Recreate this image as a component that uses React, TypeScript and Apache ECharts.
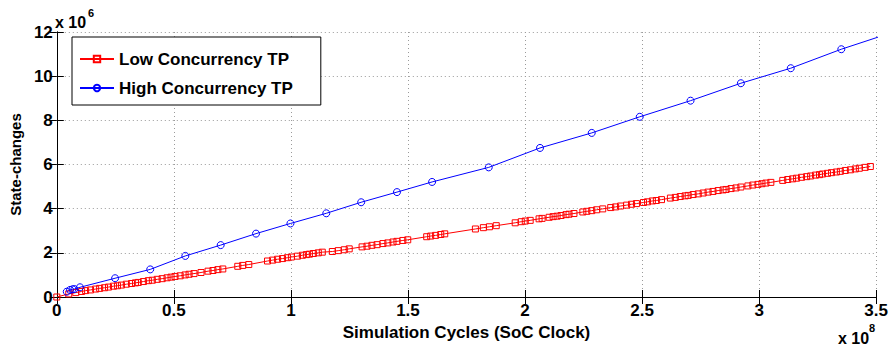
import React, { useEffect, useRef } from "react";
import * as echarts from "echarts";

// x in units of 1e8 simulation cycles, y in units of 1e6 state-changes
const lowX = [
  0, 0.051, 0.081, 0.106, 0.123, 0.144, 0.166, 0.183, 0.204, 0.221,
  0.242, 0.259, 0.276, 0.297, 0.319, 0.336, 0.348, 0.370, 0.391, 0.408,
  0.429, 0.450, 0.471, 0.488, 0.505, 0.527, 0.548, 0.565, 0.586, 0.616,
  0.646, 0.667, 0.688, 0.709, 0.773, 0.794, 0.820, 0.900, 0.922, 0.943,
  0.964, 0.985, 1.002, 1.028, 1.049, 1.066, 1.079, 1.096, 1.117, 1.134,
  1.177, 1.202, 1.228, 1.249, 1.304, 1.325, 1.346, 1.368, 1.393, 1.414,
  1.436, 1.453, 1.478, 1.499, 1.580, 1.597, 1.618, 1.640, 1.657, 1.788,
  1.822, 1.848, 1.877, 1.958, 1.984, 2.001, 2.022, 2.060, 2.073, 2.103,
  2.120, 2.137, 2.154, 2.175, 2.188, 2.209, 2.247, 2.264, 2.285, 2.306,
  2.332, 2.366, 2.387, 2.408, 2.434, 2.455, 2.476, 2.506, 2.523, 2.544,
  2.561, 2.583, 2.621, 2.642, 2.663, 2.684, 2.697, 2.718, 2.740, 2.761,
  2.782, 2.803, 2.825, 2.846, 2.859, 2.880, 2.901, 2.922, 2.952, 2.973,
  2.995, 3.012, 3.029, 3.050, 3.101, 3.122, 3.143, 3.160, 3.181, 3.203,
  3.220, 3.241, 3.258, 3.271, 3.292, 3.309, 3.330, 3.347, 3.368, 3.390,
  3.411, 3.428, 3.453, 3.475,
];
const lowY = [
  0, 0.14, 0.2, 0.25, 0.29, 0.32, 0.36, 0.39, 0.42, 0.45,
  0.49, 0.51, 0.54, 0.58, 0.61, 0.64, 0.66, 0.70, 0.74, 0.76,
  0.80, 0.83, 0.87, 0.90, 0.93, 0.96, 1.00, 1.03, 1.06, 1.11,
  1.17, 1.20, 1.24, 1.27, 1.39, 1.43, 1.47, 1.63, 1.67, 1.71,
  1.74, 1.78, 1.81, 1.85, 1.89, 1.92, 1.94, 1.97, 2.00, 2.03,
  2.06, 2.10, 2.14, 2.18, 2.27, 2.30, 2.34, 2.37, 2.42, 2.45,
  2.49, 2.52, 2.56, 2.59, 2.73, 2.76, 2.79, 2.83, 2.86, 3.08,
  3.14, 3.18, 3.23, 3.36, 3.41, 3.44, 3.47, 3.54, 3.56, 3.61,
  3.64, 3.66, 3.69, 3.73, 3.75, 3.78, 3.85, 3.88, 3.91, 3.95,
  3.99, 4.05, 4.08, 4.12, 4.16, 4.20, 4.23, 4.28, 4.31, 4.35,
  4.37, 4.41, 4.48, 4.51, 4.55, 4.58, 4.60, 4.64, 4.67, 4.71,
  4.75, 4.78, 4.82, 4.85, 4.87, 4.91, 4.94, 4.98, 5.03, 5.07,
  5.10, 5.13, 5.16, 5.19, 5.28, 5.32, 5.35, 5.38, 5.42, 5.45,
  5.48, 5.52, 5.54, 5.57, 5.60, 5.63, 5.66, 5.69, 5.73, 5.76,
  5.80, 5.83, 5.87, 5.91,
];
const highX = [
  0.0425, 0.0565, 0.067, 0.075, 0.099, 0.249, 0.399, 0.549, 0.700, 0.851,
  0.998, 1.151, 1.300, 1.453, 1.603, 1.845, 2.064, 2.285, 2.490, 2.707,
  2.922, 3.135, 3.351, 3.566,
];
const highY = [
  0.24, 0.32, 0.35, 0.36, 0.44, 0.85, 1.25, 1.86, 2.35, 2.87,
  3.33, 3.79, 4.29, 4.75, 5.21, 5.87, 6.75, 7.43, 8.16, 8.89,
  9.68, 10.36, 11.22, 11.97,
];
const seriesNames = ["Low Concurrency TP", "High Concurrency TP"];
const xTitle = "Simulation Cycles (SoC Clock)";
const yTitle = "State-changes";
const xExp = "8";
const yExp = "6";

const FONT = "'Liberation Sans', Arial, Helvetica, sans-serif";

export default function App() {
  const ref = useRef<HTMLDivElement>(null);
  useEffect(() => {
    if (!ref.current) return;
    const chart = echarts.init(ref.current, null, { renderer: "svg" });
    const lowData = lowX.map((x, i) => [x, lowY[i]]);
    const highData = highX.map((x, i) => [x, highY[i]]);
    const axisLine = { show: true, lineStyle: { color: "#000", width: 1 } };
    const tick = { show: true, inside: true, length: 7, lineStyle: { color: "#000", width: 1 } };
    const split = { show: true, lineStyle: { color: "#9a9a9a", width: 1, type: [1, 3] } };
    const label = { fontSize: 17, fontWeight: "bold", fontFamily: FONT, color: "#000" };
    chart.setOption({
      animation: false,
      backgroundColor: "#fff",
      grid: { left: 55, right: 12, top: 32, bottom: 54 },
      legend: {
        data: seriesNames,
        orient: "vertical",
        left: 72,
        top: 37,
        backgroundColor: "#fff",
        borderColor: "#000",
        borderWidth: 1,
        padding: [12, 28, 7, 7],
        itemGap: 9,
        itemWidth: 34,
        itemHeight: 8,
        textStyle: { fontSize: 17, fontWeight: "bold", fontFamily: FONT, color: "#000", lineHeight: 20, height: 20 },
      },
      xAxis: [
        {
          type: "value", min: 0, max: 3.5, interval: 0.5,
          axisLine, axisTick: tick, splitLine: split,
          axisLabel: { ...label, margin: 5, showMaxLabel: true, showMinLabel: true },
          name: xTitle, nameLocation: "middle", nameGap: 20,
          nameTextStyle: { fontSize: 17, fontWeight: "bold", fontFamily: FONT, color: "#000" },
        },
        {
          type: "value", min: 0, max: 3.5, interval: 0.5, position: "top",
          axisLine, axisTick: tick, splitLine: { show: false }, axisLabel: { show: false },
        },
      ],
      yAxis: [
        {
          type: "value", min: 0, max: 12, interval: 2,
          axisLine, axisTick: tick, splitLine: split,
          axisLabel: { ...label, margin: 4 },
          name: yTitle, nameLocation: "middle", nameGap: 30, nameRotate: 90,
          nameTextStyle: { fontSize: 15, fontWeight: "bold", fontFamily: FONT, color: "#000" },
        },
        {
          type: "value", min: 0, max: 12, interval: 2, position: "right",
          axisLine, axisTick: tick, splitLine: { show: false }, axisLabel: { show: false },
        },
      ],
      graphic: [
        { type: "text", left: 55, top: 14, style: { text: "x 10", font: `bold 16px ${FONT}`, fill: "#000" } },
        { type: "text", left: 88, top: 7, style: { text: yExp, font: `bold 11px ${FONT}`, fill: "#000" } },
        { type: "text", left: 838, top: 330, style: { text: "x 10", font: `bold 16px ${FONT}`, fill: "#000" } },
        { type: "text", left: 869, top: 322, style: { text: xExp, font: `bold 11px ${FONT}`, fill: "#000" } },
      ],
      series: [
        {
          name: seriesNames[0], type: "line", data: lowData, xAxisIndex: 0, yAxisIndex: 0,
          symbol: "rect", symbolSize: 6, clip: true,
          lineStyle: { color: "#ff0000", width: 1 },
          itemStyle: { color: "rgba(0,0,0,0)", borderColor: "#ff0000", borderWidth: 1 },
        },
        {
          name: seriesNames[1], type: "line", data: highData, xAxisIndex: 0, yAxisIndex: 0,
          symbol: "circle", symbolSize: 7, clip: true,
          lineStyle: { color: "#0000ff", width: 1 },
          itemStyle: { color: "rgba(0,0,0,0)", borderColor: "#0000ff", borderWidth: 1 },
        },
      ],
    });
    return () => chart.dispose();
  }, []);
  return (
    <div
      ref={ref}
      style={{ position: "fixed", left: 0, top: 0, width: 891, height: 351 }}
    />
  );
}
